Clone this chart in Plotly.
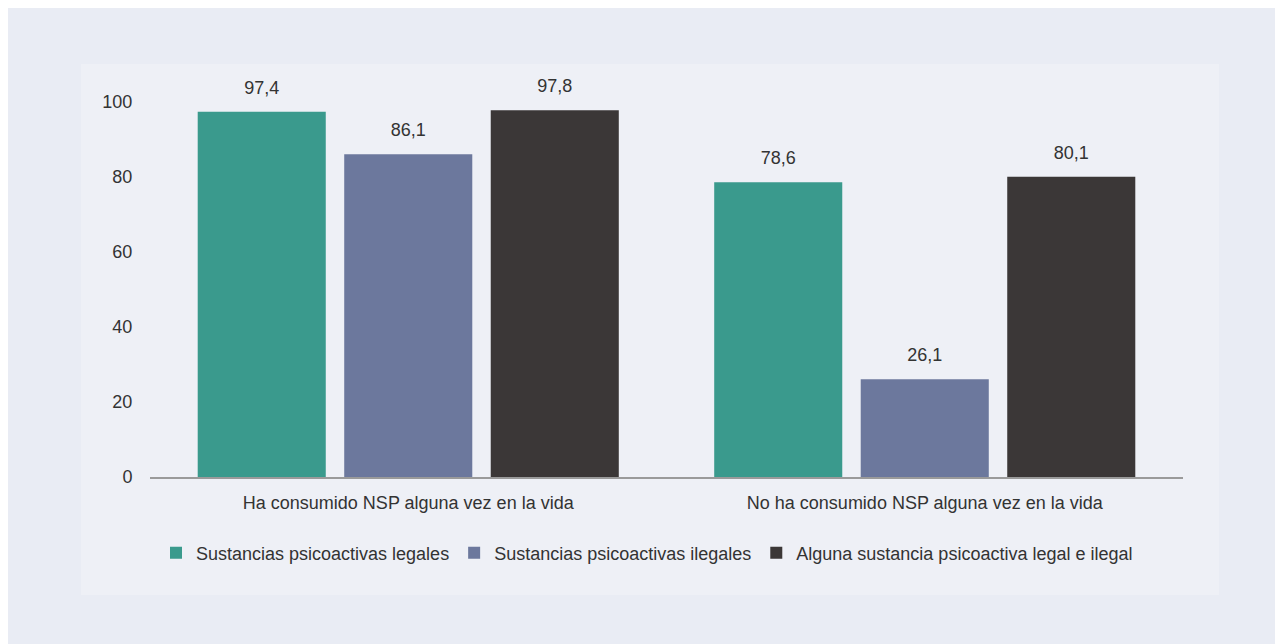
import plotly.graph_objects as go

categories = ["Ha consumido NSP alguna vez en la vida", "No ha consumido NSP alguna vez en la vida"]
series_names = ["Sustancias psicoactivas legales", "Sustancias psicoactivas ilegales",
                "Alguna sustancia psicoactiva legal e ilegal"]
legales = [97.4, 78.6]
ilegales = [86.1, 26.1]
alguna = [97.8, 80.1]
y_ticks = [0, 20, 40, 60, 80, 100]

colors = ["#3a9a8d", "#6c789d", "#3b3737"]
OFF = 8  # page body margin
W, H = 1283 - OFF, 644 - OFF
L, R, T, B = 142, 100, 94, 167
pw, ph = W - L - R, H - T - B

def px_x(p):
    return (p - OFF - L) / pw

def px_y(p):
    return (H - B - (p - OFF)) / ph

font = "Liberation Sans, Arial, sans-serif"
txtcol = "#333333"

fig = go.Figure()
for name, vals, c in zip(series_names, [legales, ilegales, alguna], colors):
    fig.add_trace(go.Bar(
        x=categories, y=vals, name=name, marker=dict(color=c, line=dict(width=0)),
        texttemplate="<span style='font-size:18px'>%{y:.1f}</span><br> ",
        textposition="outside", cliponaxis=False,
        textfont=dict(size=10, color=txtcol, family=font),
    ))

fig.update_layout(
    width=W, height=H,
    margin=dict(l=L, r=R, t=T, b=B, pad=0),
    paper_bgcolor="#e9ecf4", plot_bgcolor="rgba(0,0,0,0)",
    separators=",.",
    barmode="group", bargap=0.149, bargroupgap=0.126,
    font=dict(family=font, size=18, color=txtcol),
    showlegend=True,
    legend=dict(orientation="h", x=px_x(156), xanchor="left", y=px_y(553), yanchor="middle",
                font=dict(size=18, color=txtcol, family=font), bgcolor="rgba(0,0,0,0)",
                itemwidth=30, tracegroupgap=0),
    xaxis=dict(showline=True, linecolor="#9a9a9a", linewidth=2, ticks="", showgrid=False,
               ticklabelstandoff=8, tickfont=dict(size=18, color=txtcol)),
    yaxis=dict(range=[0, 100], tickvals=y_ticks, showgrid=False, zeroline=False, showline=False,
               ticks="outside", ticklen=13, tickcolor="rgba(0,0,0,0)",
               tickfont=dict(size=18, color=txtcol)),
    shapes=[
        dict(type="rect", xref="paper", yref="paper", x0=px_x(81), x1=px_x(1219), y0=px_y(64), y1=px_y(595),
             fillcolor="#eef0f6", line=dict(width=0), layer="below"),
    ],
)

fig.write_html("out.html")
